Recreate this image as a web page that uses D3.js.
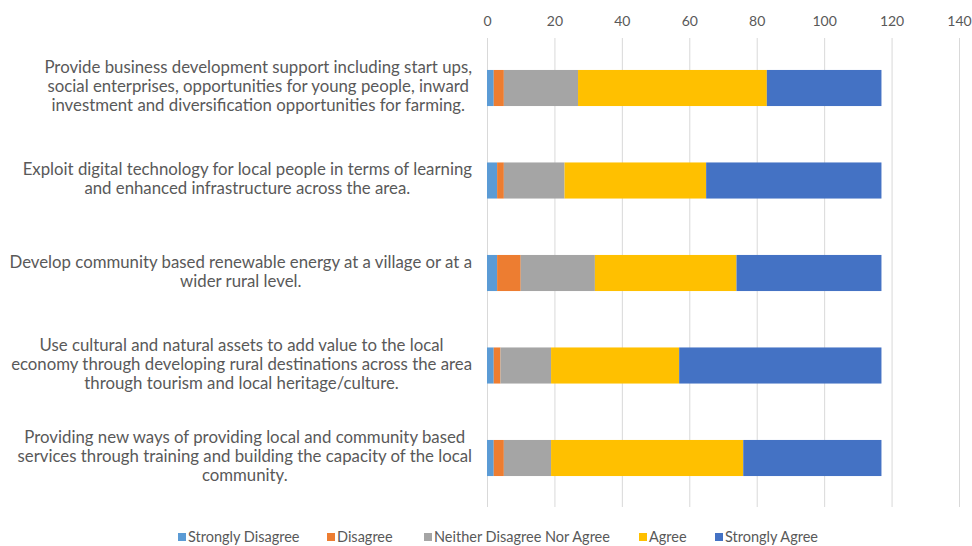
<!DOCTYPE html>
<html>
<head>
<meta charset="utf-8">
<script src="https://cdn.jsdelivr.net/npm/d3@7"></script>
<style>
  html, body { margin: 0; padding: 0; background: #fff; }
  svg { display: block; }
</style>
</head>
<body>
<svg id="chart" width="972" height="546"></svg>
<script>
const categories = [
  ["Provide business development support including start ups,", "social enterprises, opportunities for young people, inward", "investment and diversification opportunities for farming."],
  ["Exploit digital technology for local people in terms of learning", "and enhanced infrastructure across the area."],
  ["Develop community based renewable energy at a village or at a", "wider rural level."],
  ["Use cultural and natural assets to add value to the local", "economy through developing rural destinations across the area", "through tourism and local heritage/culture."],
  ["Providing new ways of providing local and community based", "services through training and building the capacity of the local", "community."]
];
const seriesNames = ["Strongly Disagree", "Disagree", "Neither Disagree Nor Agree", "Agree", "Strongly Agree"];
const stronglyDisagree = [2, 3, 3, 2, 2];
const disagree = [3, 2, 7, 2, 3];
const neither = [22, 18, 22, 15, 14];
const agree = [56, 42, 42, 38, 57];
const stronglyAgree = [34, 52, 43, 60, 41];
const tickValues = [0, 20, 40, 60, 80, 100, 120, 140];
const colors = ["#5B9BD5", "#ED7D31", "#A5A5A5", "#FFC000", "#4472C4"];

const seriesValues = [stronglyDisagree, disagree, neither, agree, stronglyAgree];
const rows = categories.map((c, i) => {
  const r = { idx: i };
  seriesNames.forEach((s, j) => r[s] = seriesValues[j][i]);
  return r;
});

const svg = d3.select("#chart");
const FONT = "Lato, 'Open Sans', sans-serif";
const textColor = "#595959";

const x = d3.scaleLinear().domain([0, 140]).range([487, 959]);
const y = d3.scaleBand().domain(d3.range(categories.length)).range([41.75, 504.25]).paddingInner(0.61).paddingOuter(0.305);

// gridlines
svg.append("g").selectAll("line").data(tickValues).join("line")
  .attr("x1", d => x(d) + 0.5).attr("x2", d => x(d) + 0.5)
  .attr("y1", 38).attr("y2", 507)
  .attr("stroke", "#d9d9d9").attr("stroke-width", 1);

// top axis labels
const axis = svg.append("g").attr("transform", "translate(0,26)")
  .call(d3.axisTop(x).tickValues(tickValues).tickSize(0).tickPadding(0));
axis.select(".domain").remove();
axis.selectAll("text").attr("font-family", FONT).attr("font-size", 14).attr("fill", textColor);

// bars
const stack = d3.stack().keys(seriesNames)(rows);
svg.append("g").selectAll("g").data(stack).join("g")
  .attr("fill", (d, i) => colors[i])
  .selectAll("rect").data(d => d).join("rect")
  .attr("x", d => x(d[0]))
  .attr("width", d => x(d[1]) - x(d[0]))
  .attr("y", d => y(d.data.idx))
  .attr("height", y.bandwidth());

// category labels
const measure = svg.append("text").attr("font-family", FONT).attr("font-size", 16)
  .text("Develop community based renewable energy at a village or at a");
const w16 = measure.node().getComputedTextLength();
measure.remove();
const labelSize = 16 * 463 / w16;
const lineH = 19;
const rightEdge = 472;
const labelG = svg.append("g").attr("font-family", FONT).attr("font-size", labelSize).attr("fill", textColor);
categories.forEach((lines, i) => {
  const g = labelG.append("g");
  const texts = lines.map(l => g.append("text").text(l));
  const maxW = d3.max(texts, t => t.node().getComputedTextLength());
  const cx = rightEdge - maxW / 2;
  const cy = y(i) + y.bandwidth() / 2 - 1.5;
  const n = lines.length;
  texts.forEach((t, k) => {
    t.attr("x", cx).attr("text-anchor", "middle")
     .attr("y", cy + (k - (n - 1) / 2) * lineH).attr("dy", "0.35em");
  });
});

// legend
const legendX = [178, 327, 424, 639, 715];
const legG = svg.append("g").attr("font-family", FONT).attr("font-size", 14.5).attr("fill", textColor);
seriesNames.forEach((s, i) => {
  legG.append("rect").attr("x", legendX[i]).attr("y", 533).attr("width", 8).attr("height", 8).attr("fill", colors[i]);
  legG.append("text").attr("x", legendX[i] + 10).attr("y", 537).attr("dy", "0.35em").text(s);
});
</script>
</body>
</html>
